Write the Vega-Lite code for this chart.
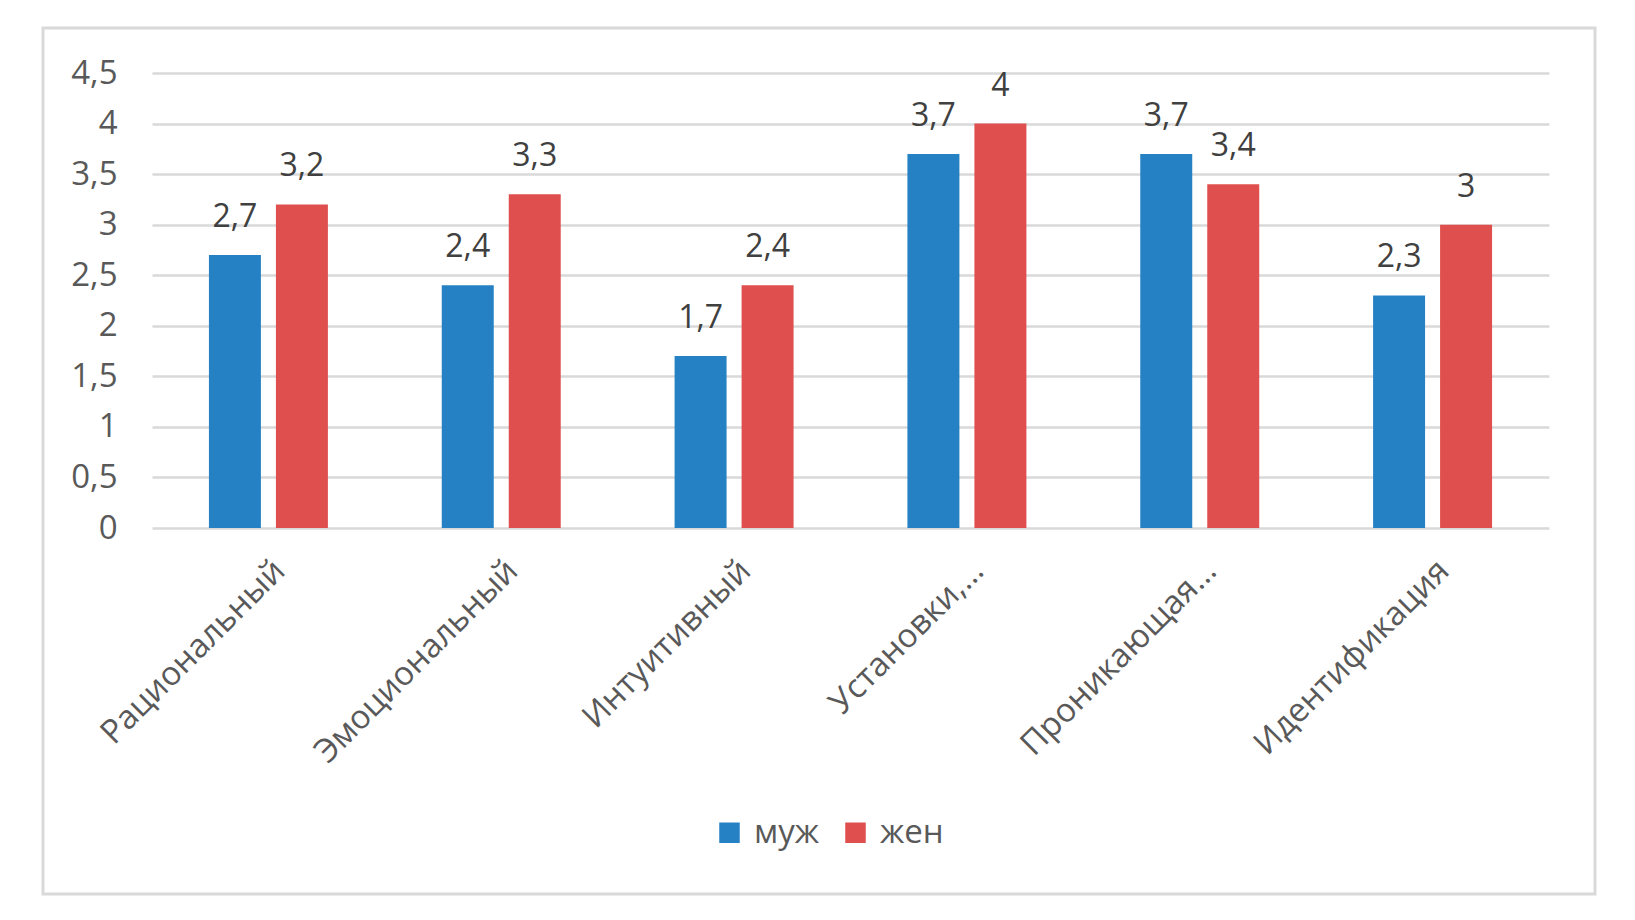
{
  "$schema": "https://vega.github.io/schema/vega-lite/v6.json",
  "width": 1552,
  "height": 866,
  "autosize": {"type": "none"},
  "padding": {"left": 43, "top": 28, "right": 40, "bottom": 26},
  "background": "white",
  "config": {
    "locale": {"number": {"decimal": ",", "thousands": " ", "grouping": [3], "currency": ["", ""]}},
    "view": {"stroke": "#D9D9D9", "strokeWidth": 3},
    "font": "Open Sans"
  },
  "data": {
    "values": [
      {"cat": "Рациональный", "sex": "муж", "v": 2.7},
      {"cat": "Рациональный", "sex": "жен", "v": 3.2},
      {"cat": "Эмоциональный", "sex": "муж", "v": 2.4},
      {"cat": "Эмоциональный", "sex": "жен", "v": 3.3},
      {"cat": "Интуитивный", "sex": "муж", "v": 1.7},
      {"cat": "Интуитивный", "sex": "жен", "v": 2.4},
      {"cat": "Установки,…", "sex": "муж", "v": 3.7},
      {"cat": "Установки,…", "sex": "жен", "v": 4},
      {"cat": "Проникающая…", "sex": "муж", "v": 3.7},
      {"cat": "Проникающая…", "sex": "жен", "v": 3.4},
      {"cat": "Идентификация", "sex": "муж", "v": 2.3},
      {"cat": "Идентификация", "sex": "жен", "v": 3}
    ]
  },
  "encoding": {
    "x": {
      "field": "cat", "type": "nominal", "sort": null,
      "scale": {"range": [109, 1506], "paddingInner": 0.489, "paddingOuter": 0.2445},
      "axis": {
        "title": null, "domain": false, "ticks": false, "tickSize": 0,
        "labelAngle": -45, "labelFontSize": 33, "labelColor": "#595959",
        "labelPadding": 26, "offset": -366, "labelLimit": 400
      }
    },
    "xOffset": {
      "field": "sex", "type": "nominal", "sort": ["муж", "жен"],
      "scale": {"paddingInner": 0.224, "paddingOuter": 0}
    },
    "y": {
      "field": "v", "type": "quantitative",
      "scale": {"domain": [0, 4.5], "range": [500, 45], "nice": false},
      "axis": {
        "title": null, "domain": false, "ticks": false, "tickSize": 0,
        "values": [0, 0.5, 1, 1.5, 2, 2.5, 3, 3.5, 4, 4.5],
        "format": ".1~f", "labelFontSize": 33, "labelColor": "#595959",
        "labelPadding": -74, "labelAlign": "right",
        "gridColor": "#D9D9D9", "gridWidth": 2.5
      }
    }
  },
  "layer": [
    {
      "mark": {"type": "bar"},
      "encoding": {
        "color": {
          "field": "sex", "type": "nominal",
          "scale": {"domain": ["муж", "жен"], "range": ["#2581C4", "#DF4F4E"]},
          "legend": {
            "title": null, "orient": "none", "direction": "horizontal",
            "legendX": 670, "legendY": 788,
            "symbolType": "square", "symbolSize": 420, "symbolStrokeWidth": 0,
            "labelFontSize": 33, "labelColor": "#595959", "labelOffset": 8,
            "columnPadding": 20
          }
        }
      }
    },
    {
      "mark": {"type": "text", "baseline": "alphabetic", "dy": -28, "fontSize": 32, "color": "#404040"},
      "encoding": {
        "text": {"field": "v", "type": "quantitative", "format": ".1~f"}
      }
    }
  ]
}
